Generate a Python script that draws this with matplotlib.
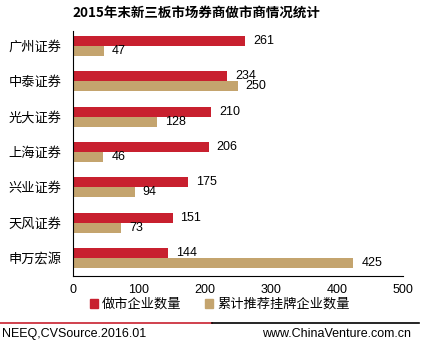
import matplotlib.pyplot as plt
import numpy as np
from matplotlib.lines import Line2D
from matplotlib.patches import Patch

plt.rcParams['font.family'] = ['Noto Sans CJK SC', 'DejaVu Sans']

brokers = ['广州证券', '中泰证券', '光大证券', '上海证券', '兴业证券', '天风证券', '申万宏源']
market_making = [261, 234, 210, 206, 175, 151, 144]
listed_total = [47, 250, 128, 46, 94, 73, 425]
xticks = [0, 100, 200, 300, 400, 500]

red = '#C8202F'
tan = '#C4A46E'

fig = plt.figure(figsize=(4.29, 3.53), dpi=100)
ax = fig.add_axes([0.170, 0.218, 0.769, 0.694])

y = np.arange(len(brokers))
h = 0.285
ax.barh(y - h / 2, market_making, height=h, color=red)
ax.barh(y + h / 2, listed_total, height=h, color=tan)

for i in range(len(brokers)):
    ax.text(market_making[i] + 12, y[i] - h / 2, str(market_making[i]),
            va='center', ha='left', fontsize=9, family='Liberation Sans')
    ax.text(listed_total[i] + 12, y[i] + h / 2, str(listed_total[i]),
            va='center', ha='left', fontsize=9, family='Liberation Sans')

ax.set_xlim(0, 500)
ax.set_ylim(6.51, -0.42)
ax.set_yticks(y)
ax.set_yticklabels(brokers, fontsize=9.5)
ax.set_xticks(xticks)
ax.set_xticklabels([str(t) for t in xticks], fontsize=9, family='Liberation Sans')
ax.tick_params(axis='x', length=0, pad=6)
ax.tick_params(axis='y', length=0, pad=8)
ax.spines['top'].set_visible(False)
ax.spines['right'].set_visible(False)

fig.text(0.170, 0.965, '2015年末新三板市场券商做市商情况统计', fontsize=9.7,
         fontweight='bold', va='center', ha='left')

handles = [Patch(color=red), Patch(color=tan)]
fig.legend(handles, ['做市企业数量', '累计推荐挂牌企业数量'], loc='center',
           bbox_to_anchor=(0.513, 0.137), ncol=2, frameon=False, fontsize=9.5,
           handlelength=0.6, handleheight=0.6, handletextpad=0.3, columnspacing=1.8,
           borderpad=0.1)

fig.add_artist(Line2D([0.0, 0.495], [0.085, 0.085], color=red, lw=1.2))
fig.add_artist(Line2D([0.495, 0.977], [0.085, 0.085], color='black', lw=1.2))
fig.text(0.005, 0.055, 'NEEQ,CVSource.2016.01', fontsize=9, family='Liberation Sans',
         va='center', ha='left')
fig.text(0.957, 0.055, 'www.ChinaVenture.com.cn', fontsize=9, family='Liberation Sans',
         va='center', ha='right')

fig.savefig('out.png', dpi=100)
